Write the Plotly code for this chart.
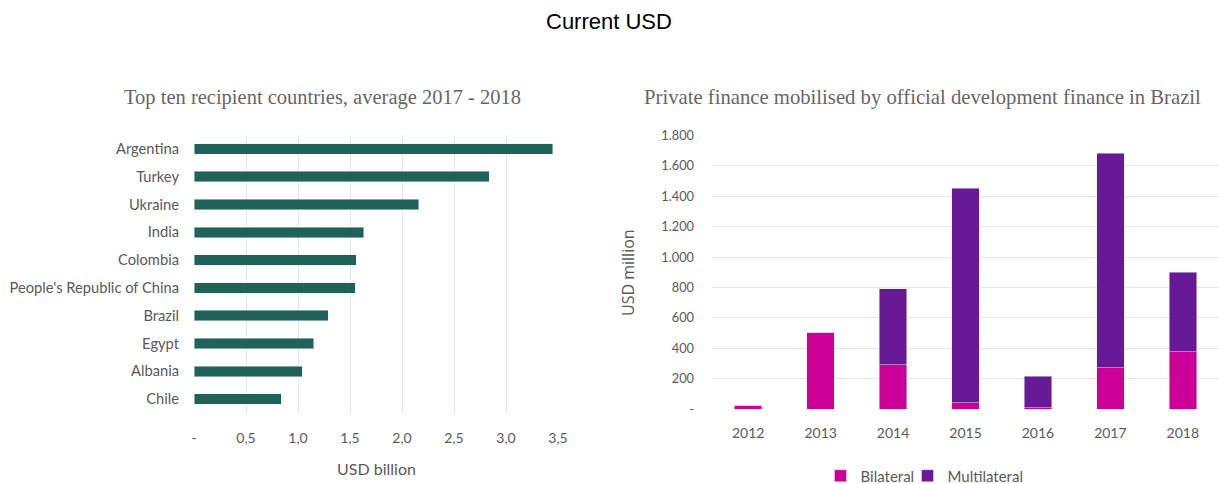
import plotly.graph_objects as go

countries = ["Argentina", "Turkey", "Ukraine", "India", "Colombia",
             "People's Republic of China", "Brazil", "Egypt", "Albania", "Chile"]
country_values = [3.45, 2.84, 2.16, 1.63, 1.56, 1.55, 1.29, 1.15, 1.04, 0.84]

years = ["2012", "2013", "2014", "2015", "2016", "2017", "2018"]
bilateral = [26, 506, 294, 44, 9, 274, 379]
multilateral = [0, 0, 499, 1408, 208, 1408, 521]

x1_tickvals = [0, 0.5, 1.0, 1.5, 2.0, 2.5, 3.0, 3.5]
x1_ticktext = ["-", "0,5", "1,0", "1,5", "2,0", "2,5", "3,0", "3,5"]
y2_tickvals = [0, 200, 400, 600, 800, 1000, 1200, 1400, 1600, 1800]
y2_ticktext = ["-", "200", "400", "600", "800", "1.000", "1.200", "1.400", "1.600", "1.800"]

W, H = 1219, 484
def px(x): return min(1.0, max(0.0, x / W))
def py(y): return min(1.0, max(0.0, (H - y) / H))

GRAY = "#595959"
GRID = "#E4E4E4"
TICKFONT = dict(family="Lato", size=14, color=GRAY)

fig = go.Figure()
fig.add_trace(go.Bar(
    y=countries, x=country_values, orientation="h",
    marker=dict(color="#1F6358"), xaxis="x", yaxis="y", showlegend=False,
))
fig.add_trace(go.Bar(
    x=years, y=bilateral, name="Bilateral", marker=dict(color="#CC0099"),
    xaxis="x2", yaxis="y2", legend="legend",
))
fig.add_trace(go.Bar(
    x=years, y=multilateral, name="Multilateral", marker=dict(color="#681A96"),
    xaxis="x2", yaxis="y2", legend="legend2",
))

LEGFONT = dict(family="Lato", size=15, color=GRAY)
LEG_COMMON = dict(orientation="h", xref="container", yref="container", xanchor="left",
                  yanchor="middle", font=LEGFONT, itemwidth=30, bgcolor="rgba(0,0,0,0)")

fig.update_layout(
    width=W, height=H,
    margin=dict(l=0, r=0, t=0, b=0, pad=0, autoexpand=False),
    paper_bgcolor="white", plot_bgcolor="white",
    barmode="stack",
    bargap=0.62,
    xaxis=dict(
        domain=[px(194), px(558)], range=[0, 3.5],
        tickvals=x1_tickvals, ticktext=x1_ticktext, automargin=False,
        showgrid=True, gridcolor=GRID, gridwidth=1, zeroline=False,
        showline=False, tickfont=TICKFONT, ticklabelstandoff=15,
    ),
    yaxis=dict(
        domain=[py(413), py(135)], anchor="x", automargin=False,
        categoryorder="array", categoryarray=countries[::-1],
        showgrid=False, zeroline=False, showline=False,
        tickfont=dict(family="Lato", size=14.7, color=GRAY), ticklabelstandoff=14,
    ),
    xaxis2=dict(
        domain=[px(712), 1.0], anchor="y2", automargin=False,
        showgrid=False, zeroline=False, showline=False,
        tickfont=TICKFONT, ticklabelstandoff=14,
    ),
    yaxis2=dict(
        domain=[py(409.3), py(135.3)], anchor="x2", range=[0, 1800], automargin=False,
        tickvals=y2_tickvals, ticktext=y2_ticktext,
        showgrid=True, gridcolor=GRID, gridwidth=1, zeroline=False, showline=False,
        tickfont=dict(family="Lato", size=12.8, color=GRAY), ticklabelstandoff=17,
    ),
    legend=dict(x=(837 - 16.5) / W, y=py(476), **LEG_COMMON),
    legend2=dict(x=(924 - 16.5) / W, y=py(476), **LEG_COMMON),
    annotations=[
        dict(text="Current USD", x=px(609), y=py(22), xref="paper", yref="paper",
             showarrow=False,
             font=dict(family="Liberation Sans", size=22, color="black"),
             xanchor="center", yanchor="middle"),
        dict(text="Top ten recipient countries, average 2017 - 2018", x=px(322), y=py(97),
             xref="paper", yref="paper", showarrow=False,
             font=dict(family="Liberation Serif", size=20.5, color="#666666"),
             xanchor="center", yanchor="middle"),
        dict(text="Private finance mobilised by official development finance in Brazil",
             x=px(922), y=py(97), xref="paper", yref="paper", showarrow=False,
             font=dict(family="Liberation Serif", size=20.7, color="#666666"),
             xanchor="center", yanchor="middle"),
        dict(text="USD billion", x=px(376), y=py(468), xref="paper", yref="paper",
             showarrow=False, font=dict(family="Lato", size=16, color=GRAY),
             xanchor="center", yanchor="middle"),
        dict(text="USD million", x=px(628), y=py(273), xref="paper", yref="paper",
             showarrow=False, textangle=-90,
             font=dict(family="Open Sans", size=16, color=GRAY),
             xanchor="center", yanchor="middle"),
    ],
)

post = (
    "document.documentElement.style.margin='0';"
    "document.documentElement.style.overflow='hidden';"
    "document.body.style.margin='0';"
    "document.body.style.overflow='hidden';"
    "var gd=document.getElementById('{plot_id}');"
    "gd.style.position='fixed';gd.style.left='0px';gd.style.top='0px';"
)

fig.write_html("out.html", config={"displayModeBar": False}, post_script=post)
